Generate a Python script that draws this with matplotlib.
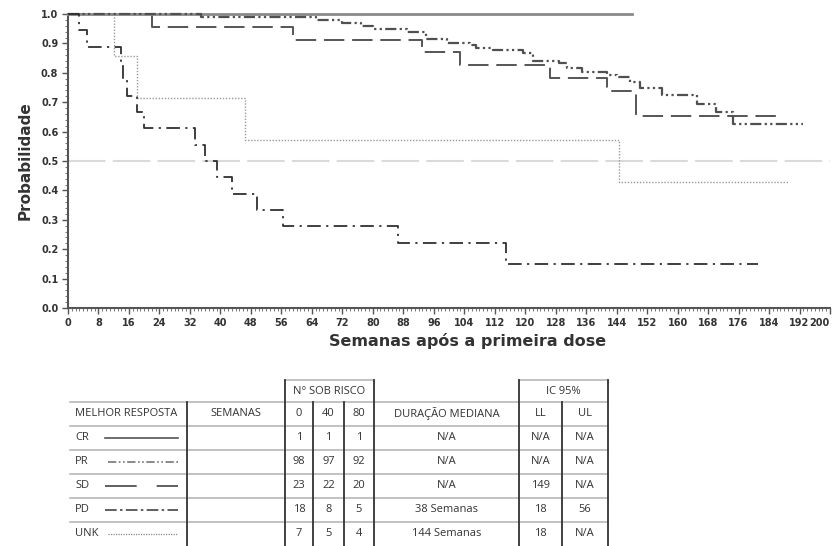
import numpy as np
import matplotlib.pyplot as plt
from matplotlib.ticker import MultipleLocator, FormatStrFormatter

# curvas de Kaplan-Meier (semanas, probabilidade)
cr_t = [0]
cr_s = [1.0]
cr_end = 148

pr_t = [0, 35, 65, 72, 77, 80, 89, 94, 99.5, 105.5, 107, 111.5, 119.5, 122,
        129, 131, 135, 141.5, 144, 147.5, 150, 156, 165, 170, 174.5]
pr_s = [1.0, 0.99, 0.98, 0.97, 0.96, 0.95, 0.94, 0.915, 0.90, 0.895, 0.885,
        0.877, 0.867, 0.84, 0.833, 0.816, 0.803, 0.793, 0.786, 0.77, 0.748,
        0.724, 0.694, 0.667, 0.626]
pr_end = 193

sd_t = [0, 22, 59, 93, 103, 126.5, 141.5, 149]
sd_s = [1.0, 0.957, 0.913, 0.870, 0.826, 0.783, 0.739, 0.652]
sd_end = 186

pd_t = [0, 3, 5, 14, 14.5, 15.5, 18, 20, 33.3, 36, 39, 43, 49.5, 56.5, 86.7, 115]
pd_s = [1.0, 0.944, 0.889, 0.833, 0.778, 0.722, 0.667, 0.611, 0.556, 0.5,
        0.444, 0.389, 0.333, 0.278, 0.222, 0.148]
pd_end = 181

unk_t = [0, 12, 18, 46.5, 144.6]
unk_s = [1.0, 0.857, 0.714, 0.571, 0.429]
unk_end = 189

# tabela
grupos = ['CR', 'PR', 'SD', 'PD', 'UNK']
risco_0 = [1, 98, 23, 18, 7]
risco_40 = [1, 97, 22, 8, 5]
risco_80 = [1, 92, 20, 5, 4]
mediana = ['N/A', 'N/A', 'N/A', '38 Semanas', '144 Semanas']
ic_ll = ['N/A', 'N/A', '149', '18', '18']
ic_ul = ['N/A', 'N/A', 'N/A', '56', 'N/A']

estilos = {
    'CR': dict(color='#8a8a8a', lw=2.0, linestyle='-'),
    'PR': dict(color='#505050', lw=1.6, dashes=(5, 1.5, 1, 1.5, 1, 1.5)),
    'SD': dict(color='#555555', lw=1.4, dashes=(10.5, 4)),
    'PD': dict(color='#303030', lw=1.3, dashes=(7.5, 3, 1.2, 3)),
    'UNK': dict(color='#9a9a9a', lw=1.0, dashes=(1, 1.2)),
}

W, H = 835, 546
fig = plt.figure(figsize=(W / 100, H / 100), dpi=100)
ax = fig.add_axes([68 / W, 1 - 308 / H, 762 / W, 294 / H])


def km(t, s, t_end, nome):
    x = list(t) + [t_end]
    y = list(s) + [s[-1]]
    ax.step(x, y, where='post', clip_on=False, zorder=3, **estilos[nome])


ax.axhline(0.5, color='#dadada', lw=1.5, dashes=(18, 3.5), zorder=1)
km(unk_t, unk_s, unk_end, 'UNK')
km(sd_t, sd_s, sd_end, 'SD')
km(cr_t, cr_s, cr_end, 'CR')
km(pr_t, pr_s, pr_end, 'PR')
km(pd_t, pd_s, pd_end, 'PD')

ax.set_xlim(0, 200)
ax.set_ylim(0, 1.0)
for lado in ['top', 'right']:
    ax.spines[lado].set_visible(False)
for lado in ['left', 'bottom']:
    ax.spines[lado].set_color('#555555')
    ax.spines[lado].set_linewidth(1.5)

ax.set_xticks(range(0, 201, 8))
ax.xaxis.set_minor_locator(MultipleLocator(1))
ax.yaxis.set_major_locator(MultipleLocator(0.1))
ax.yaxis.set_minor_locator(MultipleLocator(0.02))
ax.yaxis.set_major_formatter(FormatStrFormatter('%.1f'))
ax.tick_params(which='major', direction='out', length=4, width=1, color='#555555',
               labelsize=7, labelcolor='#333333', pad=3)
ax.tick_params(which='minor', direction='out', length=2, width=0.7, color='#777777')
for lab in ax.get_xticklabels() + ax.get_yticklabels():
    lab.set_fontweight('bold')
# o ultimo rotulo (200) fica encostado na borda direita
ax.get_xticklabels()[-1].set_horizontalalignment('right')

ax.set_xlabel('Semanas após a primeira dose', fontsize=11.5, fontweight='bold',
              color='#333333')
ax.xaxis.set_label_coords(0.525, -0.085)
ax.set_ylabel('Probabilidade', fontsize=11, fontweight='bold', color='#333333',
              labelpad=6)

# tabela desenhada em coordenadas de pixel
tb = fig.add_axes([0, 0, 1, 1])
tb.set_xlim(0, W)
tb.set_ylim(H, 0)
tb.axis('off')

fonte = dict(family=['Open Sans', 'DejaVu Sans'], fontsize=8, color='#333333',
             va='center')
linhas_y = [402, 426, 450, 474, 498, 522]
for y in linhas_y:
    tb.plot([70, 608], [y, y], color='#b8b8b8', lw=1.2)
tb.plot([285, 374], [380, 380], color='#b8b8b8', lw=1.2)
tb.plot([519, 608], [380, 380], color='#b8b8b8', lw=1.2)
for x, y0 in [(187, 402), (285, 380), (313, 402), (344, 402), (374, 380),
              (519, 380), (562, 402), (608, 380)]:
    tb.plot([x, x], [y0, 546], color='#333333', lw=1.3)

tb.text(329.5, 391, 'N° SOB RISCO', ha='center', **fonte)
tb.text(563.5, 391, 'IC 95%', ha='center', **fonte)
tb.text(75, 414, 'MELHOR RESPOSTA', ha='left', **fonte)
tb.text(236, 414, 'SEMANAS', ha='center', **fonte)
tb.text(299, 414, '0', ha='center', **fonte)
tb.text(328.5, 414, '40', ha='center', **fonte)
tb.text(359, 414, '80', ha='center', **fonte)
tb.text(446.5, 414, 'DURAÇÃO MEDIANA', ha='center', **fonte)
tb.text(540.5, 414, 'LL', ha='center', **fonte)
tb.text(585, 414, 'UL', ha='center', **fonte)

amostras = {
    'CR': ((105, 178), dict(color='#555555', lw=1.2, linestyle='-')),
    'PR': ((108, 178), dict(color='#777777', lw=1.2, dashes=(5, 1.5, 1, 1.5, 1, 1.5))),
    'SD': ((105, 178), dict(color='#444444', lw=1.2, dashes=(19, 12))),
    'PD': ((105, 178), dict(color='#444444', lw=1.2, dashes=(7, 2, 1.5, 2))),
    'UNK': ((108, 178), dict(color='#888888', lw=0.9, dashes=(1, 1))),
}
for i, g in enumerate(grupos):
    yc = 438 + 24 * i
    tb.text(75, yc, g, ha='left', **fonte)
    (x0, x1), st = amostras[g]
    tb.plot([x0, x1], [yc, yc], **st)
    tb.text(299, yc, str(risco_0[i]), ha='center', **fonte)
    tb.text(328.5, yc, str(risco_40[i]), ha='center', **fonte)
    tb.text(359, yc, str(risco_80[i]), ha='center', **fonte)
    tb.text(446.5, yc, mediana[i], ha='center', **fonte)
    tb.text(540.5, yc, ic_ll[i], ha='center', **fonte)
    tb.text(585, yc, ic_ul[i], ha='center', **fonte)

fig.savefig('out.png', dpi=100)
